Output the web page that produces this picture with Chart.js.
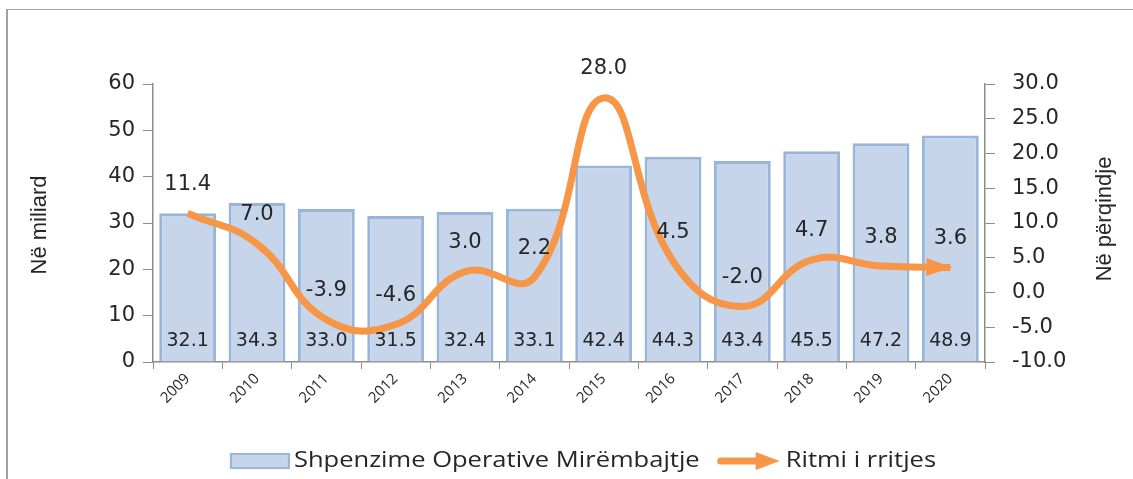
<!DOCTYPE html>
<html>
<head>
<meta charset="utf-8">
<script src="https://cdn.jsdelivr.net/npm/chart.js@4"></script>
<style>
  html, body { margin: 0; padding: 0; background: #fff; }
  #wrap { width: 1133px; height: 479px; position: relative; }
</style>
</head>
<body>
<div id="wrap"><canvas id="mainChart"></canvas></div>
<script>
// chart data
const years = ['2009', '2010', '2011', '2012', '2013', '2014', '2015', '2016', '2017', '2018', '2019', '2020'];
const spending = [32.1, 34.3, 33.0, 31.5, 32.4, 33.1, 42.4, 44.3, 43.4, 45.5, 47.2, 48.9];
const growth = [11.4, 7.0, -3.9, -4.6, 3.0, 2.2, 28.0, 4.5, -2.0, 4.7, 3.8, 3.6];
const leftTicks = [0, 10, 20, 30, 40, 50, 60];
const rightTicks = [-10, -5, 0, 5, 10, 15, 20, 25, 30];

const barLabel = 'Shpenzime Operative Mirëmbajtje';
const lineLabel = 'Ritmi i rritjes';
const leftTitle = 'Në miliard';
const rightTitle = 'Në përqindje';

const orange = '#F79646';
const barFill = '#C6D5EA';
const barEdge = '#98B5DA';
const axisGrey = '#8C8C8C';
const textCol = '#262626';
const numFont = '"DejaVu Sans", Verdana, sans-serif';
const txtFont = '"Open Sans", "Liberation Sans", sans-serif';
const titleFont = '"Liberation Sans", Arial, sans-serif';

function drawArrowHead(ctx, x, y, dx, dy, len, half) {
    const d = Math.sqrt(dx * dx + dy * dy) || 1;
    const ux = dx / d, uy = dy / d;
    ctx.beginPath();
    ctx.moveTo(x, y);
    ctx.lineTo(x - ux * len - uy * half, y - uy * len + ux * half);
    ctx.lineTo(x - ux * len + uy * half, y - uy * len - ux * half);
    ctx.closePath();
    ctx.fill();
}

// text stretched sideways like the reference
function wideText(ctx, text, x, y, sx) {
    ctx.save();
    ctx.translate(x, y);
    ctx.scale(sx, 1);
    ctx.fillText(text, 0, 0);
    ctx.restore();
}

const extrasPlugin = {
    id: 'extras',
    beforeDraw(chart) {
        const ctx = chart.ctx;
        ctx.save();
        ctx.strokeStyle = '#A0A0A0';
        ctx.lineWidth = 2;
        ctx.beginPath();
        ctx.moveTo(7, 479);
        ctx.lineTo(7, 9);
        ctx.stroke();
        ctx.lineWidth = 1;
        ctx.beginPath();
        ctx.moveTo(7, 9.5);
        ctx.lineTo(1133, 9.5);
        ctx.stroke();
        ctx.restore();
    },
    afterDatasetsDraw(chart) {
        const ctx = chart.ctx;
        const area = chart.chartArea;
        ctx.save();
        ctx.fillStyle = textCol;
        ctx.textAlign = 'center';
        ctx.textBaseline = 'middle';

        // bar values at the foot of each bar
        ctx.font = '19px ' + numFont;
        const barMeta = chart.getDatasetMeta(1);
        barMeta.data.forEach((el, i) => {
            ctx.fillText(spending[i].toFixed(1), el.x, area.bottom - 21);
        });

        // arrow head at the end of the line
        const lineMeta = chart.getDatasetMeta(0);
        const pts = lineMeta.data;
        const last = pts[pts.length - 1];
        ctx.fillStyle = orange;
        drawArrowHead(ctx, last.x + 2, last.y, last.x - last.cp1x, last.y - last.cp1y, 26, 9);

        // growth values above the line points
        ctx.font = '21px ' + numFont;
        ctx.fillStyle = textCol;
        pts.forEach((el, i) => {
            ctx.fillText(growth[i].toFixed(1), el.x, el.y - 29);
        });
        ctx.restore();
    },
    afterDraw(chart) {
        const ctx = chart.ctx;
        ctx.save();
        ctx.fillStyle = textCol;

        // axis titles, both reading upwards
        ctx.font = '22px ' + titleFont;
        ctx.textAlign = 'center';
        ctx.textBaseline = 'middle';
        ctx.save();
        ctx.translate(40, 225);
        ctx.rotate(-Math.PI / 2);
        ctx.fillText(leftTitle, 0, 0);
        ctx.restore();
        ctx.save();
        ctx.translate(1105, 219);
        ctx.rotate(-Math.PI / 2);
        ctx.fillText(rightTitle, 0, 0);
        ctx.restore();

        // legend
        ctx.font = '22px ' + txtFont;
        ctx.textAlign = 'left';
        const sx = 1.16;
        const w1 = ctx.measureText(barLabel).width * sx;
        const w2 = ctx.measureText(lineLabel).width * sx;
        const boxW = 60, gap = 4, sep = 18, arrowW = 62, gap2 = 6;
        const total = boxW + gap + w1 + sep + arrowW + gap2 + w2;
        let x = 583 - total / 2;
        const cy = 461;
        ctx.fillStyle = barFill;
        ctx.fillRect(x, cy - 8, boxW, 16);
        ctx.strokeStyle = barEdge;
        ctx.lineWidth = 2;
        ctx.strokeRect(x + 1, cy - 7, boxW - 2, 14);
        x += boxW + gap;
        ctx.fillStyle = textCol;
        wideText(ctx, barLabel, x, cy, sx);
        x += w1 + sep;
        ctx.strokeStyle = orange;
        ctx.lineWidth = 7;
        ctx.lineCap = 'round';
        ctx.beginPath();
        ctx.moveTo(x + 3, cy);
        ctx.lineTo(x + arrowW - 20, cy);
        ctx.stroke();
        ctx.fillStyle = orange;
        drawArrowHead(ctx, x + arrowW, cy, 1, 0, 24, 9);
        x += arrowW + gap2;
        ctx.fillStyle = textCol;
        wideText(ctx, lineLabel, x, cy, sx);
        ctx.restore();
    }
};

function initializeChart() {
    new Chart('mainChart', {
        data: {
            labels: years,
            datasets: [{
                type: 'line',
                label: lineLabel,
                data: growth,
                yAxisID: 'yRight',
                borderColor: orange,
                borderWidth: 7,
                pointRadius: 0,
                tension: 0.45,
                order: 0
            }, {
                type: 'bar',
                label: barLabel,
                data: spending,
                yAxisID: 'yLeft',
                backgroundColor: barFill,
                borderColor: barEdge,
                borderWidth: 3,
                categoryPercentage: 1,
                barPercentage: 0.82,
                order: 1
            }]
        },
        options: {
            responsive: true,
            maintainAspectRatio: false,
            animation: false,
            layout: { padding: { top: 84, left: 0, right: 0, bottom: 0 } },
            plugins: {
                legend: { display: false },
                tooltip: { enabled: false }
            },
            scales: {
                x: {
                    type: 'category',
                    offset: true,
                    grid: {
                        offset: true,
                        drawOnChartArea: false,
                        color: axisGrey,
                        tickLength: 7
                    },
                    border: { color: axisGrey, width: 1.5 },
                    ticks: {
                        color: textCol,
                        font: { size: 15, family: txtFont },
                        minRotation: 45,
                        maxRotation: 45,
                        autoSkip: false,
                        padding: 1
                    },
                    afterFit: scale => { scale.height = 117; }
                },
                yLeft: {
                    position: 'left',
                    min: 0,
                    max: 60,
                    afterBuildTicks: scale => { scale.ticks = leftTicks.map(v => ({ value: v })); },
                    grid: {
                        drawOnChartArea: false,
                        color: axisGrey,
                        tickLength: 10
                    },
                    border: { color: axisGrey, width: 1.5 },
                    ticks: {
                        color: textCol,
                        font: { size: 21, family: numFont },
                        padding: 8
                    },
                    afterFit: scale => { scale.width = 153; }
                },
                yRight: {
                    position: 'right',
                    min: -10,
                    max: 30,
                    afterBuildTicks: scale => { scale.ticks = rightTicks.map(v => ({ value: v })); },
                    grid: {
                        drawOnChartArea: false,
                        color: axisGrey,
                        tickLength: 10
                    },
                    border: { color: axisGrey, width: 1.5 },
                    ticks: {
                        color: textCol,
                        font: { size: 21, family: numFont },
                        padding: 17,
                        callback: v => Number(v).toFixed(1)
                    },
                    afterFit: scale => { scale.width = 148; }
                }
            }
        },
        plugins: [extrasPlugin]
    });
}

document.addEventListener('DOMContentLoaded', initializeChart);
</script>
</body>
</html>
